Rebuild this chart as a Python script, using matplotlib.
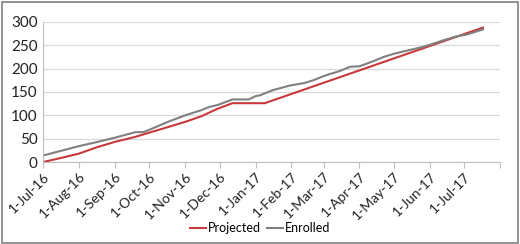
import matplotlib
matplotlib.use("Agg")
import matplotlib.pyplot as plt
from matplotlib.patches import Rectangle
import pandas as pd

plt.rcParams['font.family'] = ['Lato', 'DejaVu Sans']

# series
enrolled_dates = ['2016-07-01', '2016-08-01', '2016-08-17', '2016-09-01', '2016-09-19',
                  '2016-09-26', '2016-10-01', '2016-10-16', '2016-11-01', '2016-11-15',
                  '2016-11-22', '2016-11-29', '2016-12-12', '2016-12-26', '2017-01-01',
                  '2017-01-05', '2017-01-16', '2017-01-31', '2017-02-12', '2017-02-20',
                  '2017-03-01', '2017-03-07', '2017-03-14', '2017-03-24', '2017-04-01',
                  '2017-04-13', '2017-04-22', '2017-05-01', '2017-05-13', '2017-05-25',
                  '2017-06-01', '2017-06-13', '2017-06-24', '2017-07-03', '2017-07-17']
enrolled = [14, 34, 43, 52, 64, 64, 69, 85, 100, 111, 118, 122, 134, 134, 141,
            143, 154, 164, 169, 175, 184, 189, 194, 204, 205, 216, 225, 232, 239, 246,
            251, 261, 269, 273, 284]

projected_dates = ['2016-07-01', '2016-07-17', '2016-08-01', '2016-08-17', '2016-09-01',
                   '2016-09-19', '2016-10-01', '2016-10-16', '2016-11-01', '2016-11-15',
                   '2016-11-29', '2016-12-12', '2017-01-09', '2017-07-17']
projected = [0, 9, 18, 32, 43, 54, 63, 74, 86, 98, 114, 126, 126, 288]

tick_months = pd.date_range('2016-07-01', '2017-08-01', freq='MS')
y_ticks = [0, 50, 100, 150, 200, 250, 300]

fig = plt.figure(figsize=(5.2, 2.44), dpi=100)
fig.patches.append(Rectangle((0.003, 0.006), 0.993, 0.986, transform=fig.transFigure,
                             fill=False, edgecolor='#7f7f7f', linewidth=1.2))
ax = fig.add_axes([0.083, 0.336, 0.879, 0.574])

ax.plot(pd.to_datetime(projected_dates), projected, color='#c9393a', lw=1.5, label='Projected')
ax.plot(pd.to_datetime(enrolled_dates), enrolled, color='#808080', lw=1.5, label='Enrolled')

ax.set_xlim(tick_months[0], tick_months[-1])
ax.set_ylim(0, 300)
ax.set_yticks(y_ticks)
ax.yaxis.grid(True, color='#d9d9d9', lw=0.9)
ax.set_axisbelow(True)
ax.tick_params(axis='y', length=0, labelsize=11, pad=4, colors='#222222')

ax.set_xticks(tick_months)
labels = [f"{d.day}-{d.strftime('%b-%y')}" for d in tick_months]
labels[-1] = ''
ax.set_xticklabels(labels, rotation=45, ha='right', rotation_mode='anchor', fontsize=10,
                   color='#222222')
ax.tick_params(axis='x', length=4, color='#bfbfbf', pad=2)

for s in ['top', 'right']:
    ax.spines[s].set_visible(False)
ax.spines['left'].set_color('#bfbfbf')
ax.spines['bottom'].set_color('#bfbfbf')

fig.legend(loc='center', bbox_to_anchor=(0.5, 0.065), ncol=2, frameon=False,
           fontsize=9, handlelength=1.3, handletextpad=0.15, columnspacing=0.5)

fig.savefig('out.png', dpi=100)
